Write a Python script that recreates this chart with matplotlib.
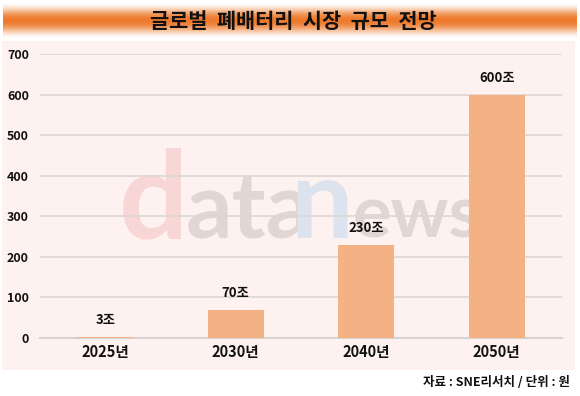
import numpy as np
import matplotlib
matplotlib.use("Agg")
import matplotlib.pyplot as plt
from matplotlib.patches import Rectangle
from matplotlib.colors import to_rgb

plt.rcParams['font.family'] = ['Noto Sans CJK KR', 'DejaVu Sans']

title = "글로벌 폐배터리 시장 규모 전망"
categories = ["2025년", "2030년", "2040년", "2050년"]
values = [3, 70, 230, 600]
value_labels = ["3조", "70조", "230조", "600조"]
yticks = [0, 100, 200, 300, 400, 500, 600, 700]
source = "자료 : SNE리서치 / 단위 : 원"

W, H = 580, 396
fig = plt.figure(figsize=(W / 100, H / 100), dpi=100)
fig.patch.set_facecolor("white")

def fx(px):
    return px / W

def fy(py):
    return 1 - py / H

# panel background
fig.patches.append(Rectangle((fx(2), fy(370)), fx(575) - fx(2), fy(41) - fy(370),
                             transform=fig.transFigure, facecolor="#FDF2EF",
                             edgecolor="none", zorder=-3))

# title banner with vertical gradient
bax = fig.add_axes([fx(3), fy(38), fx(577) - fx(3), fy(3) - fy(38)], zorder=1)
n = 200
t = np.linspace(0, 1, n)
prof = np.sin(np.pi * t) ** 1.6
orange = np.array(to_rgb("#EE7A2C"))
white = np.array([1.0, 1.0, 1.0])
grad = white[None, :] * (1 - prof[:, None]) + orange[None, :] * prof[:, None]
bax.imshow(grad[:, None, :], aspect="auto", extent=[0, 1, 0, 1])
bax.set_axis_off()
bax.text(0.505, 0.47, "  ".join(title.split(" ")),
         ha="center", va="center", fontsize=15, fontweight="bold", color="#111111",
         transform=bax.transAxes)

# watermark
wm = [("d", 119, 88, "#F9D6D6"), ("ata", 186, 66, "#E2D6D4"),
      ("n", 290, 80, "#DCE3EE"), ("ews", 353, 52, "#E2D6D4")]
for txt, x, sz, c in wm:
    fig.text(fx(x), fy(238), txt, fontsize=sz, fontweight="bold", color=c,
             family="Lato", ha="left", va="baseline", zorder=-2)

# main axes
ax = fig.add_axes([fx(40), fy(338), fx(562) - fx(40), fy(54) - fy(338)], zorder=0)
ax.set_facecolor("none")
x = np.arange(len(categories))
ax.bar(x, values, width=0.43, color="#F4B183", zorder=3)
ax.set_xlim(-0.5, len(categories) - 0.5)
ax.set_ylim(0, 700)
ax.set_yticks(yticks)
ax.set_yticklabels([str(v) for v in yticks], fontsize=9, fontweight="bold", color="#111111")
ax.set_xticks(x)
ax.set_xticklabels(categories, fontsize=10.5, fontweight="bold", color="#111111")
ax.tick_params(axis="both", length=0)
ax.tick_params(axis="y", pad=8)
ax.tick_params(axis="x", pad=4)
ax.grid(axis="y", color="#DCD6D4", linewidth=1.2, zorder=0)
ax.set_axisbelow(True)
for s in ["top", "right", "left"]:
    ax.spines[s].set_visible(False)
ax.spines["bottom"].set_color("#D9D3D1")
ax.spines["bottom"].set_linewidth(1.5)
for xi, v, lab in zip(x, values, value_labels):
    ax.annotate(lab, (xi, v), xytext=(0, 7), textcoords="offset points",
                ha="center", va="bottom", fontsize=9.5, fontweight="bold", color="#111111")

fig.text(fx(570), fy(383), source, ha="right", va="center", fontsize=9,
         fontweight="bold", color="#111111")

fig.savefig("out.png", dpi=100)
